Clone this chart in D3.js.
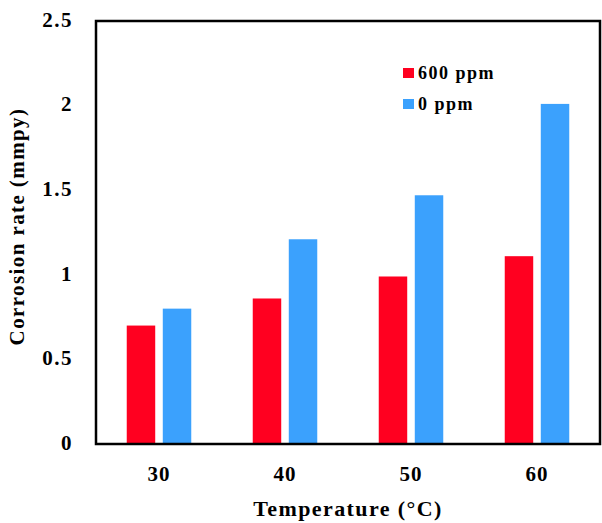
<!DOCTYPE html>
<html><head><meta charset="utf-8">
<script src="https://cdn.jsdelivr.net/npm/d3@7"></script>
<style>body{margin:0;background:#fff}svg{display:block}</style>
</head><body>
<svg id="c" width="602" height="523"></svg>
<script>
const categories = ["30", "40", "50", "60"];
const seriesNames = ["600 ppm", "0 ppm"];
const values600 = [0.70, 0.86, 0.99, 1.11];
const values0 = [0.80, 1.21, 1.47, 2.01];
const yTicks = [0, 0.5, 1, 1.5, 2, 2.5];
const yTickLabels = ["0", "0.5", "1", "1.5", "2", "2.5"];
const colors = ["#ff0020", "#3ba1fd"];

const svg = d3.select("#c");
const m = {left: 96, right: 600, top: 21, bottom: 444};
const font = "'Liberation Serif','Times New Roman',serif";

const x = d3.scaleBand().domain(categories).range([m.left, m.right]).paddingInner(0).paddingOuter(0);
const y = d3.scaleLinear().domain([0, 2.5]).range([m.bottom, m.top]);

const bw = x.bandwidth() * 0.226;
const gap = x.bandwidth() * 0.06;
const series = [values600, values0];

series.forEach((vals, si) => {
  svg.append("g").selectAll("rect").data(vals).join("rect")
    .attr("x", (d, i) => x(categories[i]) + x.bandwidth()/2 + (si === 0 ? -gap/2 - bw : gap/2))
    .attr("width", bw)
    .attr("y", d => y(d))
    .attr("height", d => y(0) - y(d))
    .attr("fill", colors[si]);
});

// frame
svg.append("rect").attr("x", m.left).attr("y", m.top)
  .attr("width", m.right - m.left).attr("height", m.bottom - m.top)
  .attr("fill", "none").attr("stroke", "#000").attr("stroke-width", 2.5);

// y axis labels
const yAxis = d3.axisLeft(y).tickValues(yTicks).tickFormat((d, i) => yTickLabels[i]).tickSize(0).tickPadding(23);
const gy = svg.append("g").attr("transform", `translate(${m.left},0)`).call(yAxis);
gy.select(".domain").remove();
gy.selectAll("text").attr("font-family", font).attr("font-weight", "bold")
  .attr("font-size", 21).attr("letter-spacing", 1.5).attr("fill", "#000").attr("dy", "0.25em");

// x axis labels
const xAxis = d3.axisBottom(x).tickSize(0).tickPadding(22);
const gx = svg.append("g").attr("transform", `translate(0,${m.bottom})`).call(xAxis);
gx.select(".domain").remove();
gx.selectAll("text").attr("font-family", font).attr("font-weight", "bold")
  .attr("font-size", 21).attr("letter-spacing", 1).attr("fill", "#000");

// titles
svg.append("text").attr("x", (m.left + m.right)/2).attr("y", 516)
  .attr("text-anchor", "middle").attr("font-family", font).attr("font-weight", "bold")
  .attr("font-size", 22).attr("letter-spacing", 1.4).text("Temperature (°C)");
svg.append("text").attr("transform", `translate(24,${(m.top + m.bottom)/2 - 6}) rotate(-90)`)
  .attr("text-anchor", "middle").attr("font-family", font).attr("font-weight", "bold")
  .attr("font-size", 21).attr("letter-spacing", 1.4).text("Corrosion rate (mmpy)");

// legend
const lg = svg.append("g");
seriesNames.forEach((n, i) => {
  const ly = 68 + i * 31;
  lg.append("rect").attr("x", 403).attr("y", ly).attr("width", 11).attr("height", 10).attr("fill", colors[i]);
  lg.append("text").attr("x", 418).attr("y", ly + 11).attr("font-family", font).attr("font-weight", "bold")
    .attr("font-size", 18).attr("letter-spacing", 1.5).text(n);
});
</script>
</body></html>
